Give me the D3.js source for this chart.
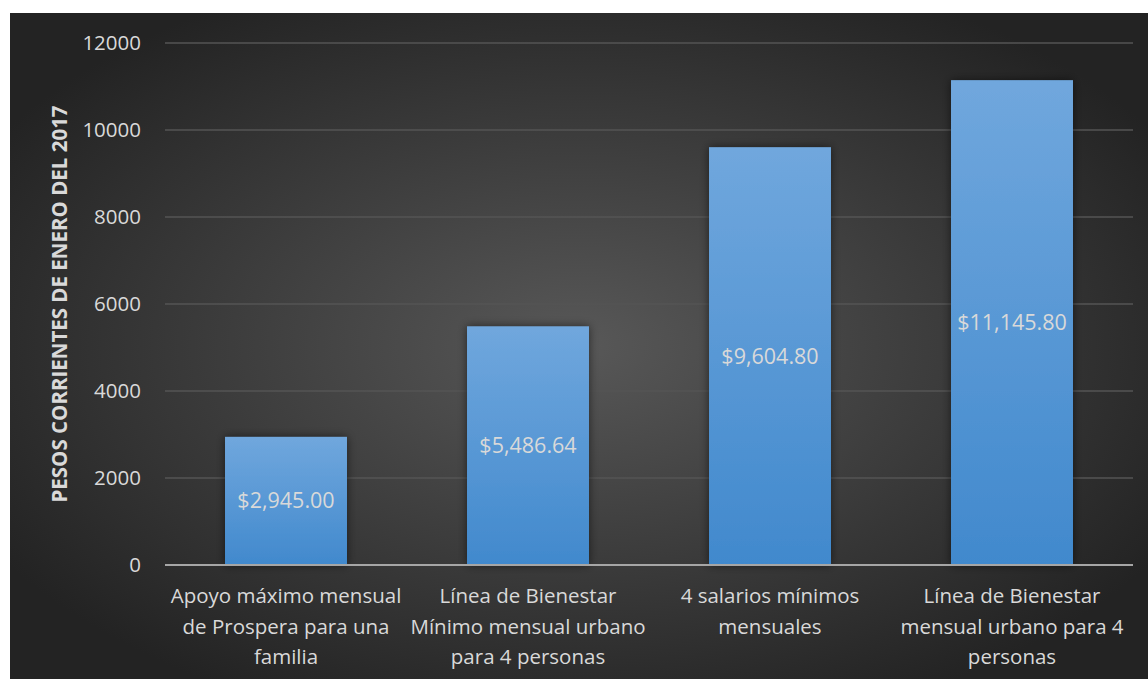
<!DOCTYPE html>
<html>
<head>
<meta charset="utf-8">
<script src="https://cdn.jsdelivr.net/npm/d3@7"></script>
<style>
  html, body { margin: 0; padding: 0; background: #fff; }
  svg { display: block; }
  text { font-family: "Open Sans", "Noto Sans", sans-serif; }
</style>
</head>
<body>
<svg id="vis"></svg>
<script>
const width = 1148;
const height = 679;

// chart data
const categories = [
  ["Apoyo máximo mensual", "de Prospera para una", "familia"],
  ["Línea de Bienestar", "Mínimo mensual urbano", "para 4 personas"],
  ["4 salarios mínimos", "mensuales"],
  ["Línea de Bienestar", "mensual urbano para 4", "personas"]
];
const values = [2945.00, 5486.64, 9604.80, 11145.80];
const valueLabels = ["$2,945.00", "$5,486.64", "$9,604.80", "$11,145.80"];
const yTicks = [0, 2000, 4000, 6000, 8000, 10000, 12000];
const yTitle = "PESOS CORRIENTES DE ENERO DEL 2017";

const margin = { left: 165, right: 15, top: 43, bottom: 114 };

const svg = d3.select("#vis").attr("width", width).attr("height", height);
const defs = svg.append("defs");

// background radial gradient
const bg = defs.append("radialGradient").attr("id", "bg")
  .attr("cx", "50%").attr("cy", "50%").attr("r", "60%");
bg.append("stop").attr("offset", "0%").attr("stop-color", "#585858");
bg.append("stop").attr("offset", "100%").attr("stop-color", "#232323");

const barGrad = defs.append("linearGradient").attr("id", "barGrad")
  .attr("x1", 0).attr("y1", 0).attr("x2", 0).attr("y2", 1);
barGrad.append("stop").attr("offset", "0%").attr("stop-color", "#70a7dd");
barGrad.append("stop").attr("offset", "100%").attr("stop-color", "#4189cd");

const shadow = defs.append("filter").attr("id", "shadow")
  .attr("x", "-20%").attr("y", "-20%").attr("width", "140%").attr("height", "140%");
shadow.append("feDropShadow").attr("dx", 0).attr("dy", 0)
  .attr("stdDeviation", 5).attr("flood-color", "#000").attr("flood-opacity", 0.55);

svg.append("rect")
  .attr("x", 10).attr("y", 13)
  .attr("width", width - 10).attr("height", height - 13)
  .attr("fill", "url(#bg)");

const x = d3.scaleBand()
  .domain(d3.range(categories.length))
  .range([margin.left, width - margin.right])
  .paddingInner(0.496).paddingOuter(0.248);

const y = d3.scaleLinear()
  .domain([0, 12000])
  .range([height - margin.bottom, margin.top]);

// gridlines
svg.append("g")
  .selectAll("line")
  .data(yTicks.filter(d => d > 0))
  .join("line")
  .attr("x1", margin.left).attr("x2", width - margin.right)
  .attr("y1", d => y(d)).attr("y2", d => y(d))
  .attr("stroke", "#555555").attr("stroke-width", 1.5);

// y axis labels
const yAxis = svg.append("g")
  .attr("transform", `translate(${margin.left},0)`)
  .call(d3.axisLeft(y).tickValues(yTicks).tickSize(0).tickPadding(24).tickFormat(d3.format("d")));
yAxis.select(".domain").remove();
yAxis.selectAll("text")
  .attr("fill", "#d9d9d9")
  .style("font-size", "20.5px");

// bars
svg.append("g")
  .selectAll("rect")
  .data(values)
  .join("rect")
  .attr("x", (d, i) => x(i))
  .attr("y", d => y(d))
  .attr("width", x.bandwidth())
  .attr("height", d => y(0) - y(d))
  .attr("fill", "url(#barGrad)")
  .attr("filter", "url(#shadow)");

// zero line
svg.append("line")
  .attr("x1", margin.left).attr("x2", width - margin.right)
  .attr("y1", y(0)).attr("y2", y(0))
  .attr("stroke", "#a6a6a6").attr("stroke-width", 2);

// data labels
svg.append("g")
  .selectAll("text")
  .data(values)
  .join("text")
  .attr("x", (d, i) => x(i) + x.bandwidth() / 2)
  .attr("y", d => (y(d) + y(0)) / 2)
  .attr("dy", "0.35em")
  .attr("text-anchor", "middle")
  .attr("fill", "#d9d9d9")
  .style("font-size", "21.5px")
  .text((d, i) => valueLabels[i]);

// category labels
const catG = svg.append("g")
  .selectAll("text")
  .data(categories)
  .join("text")
  .attr("x", (d, i) => x(i) + x.bandwidth() / 2)
  .attr("y", y(0) + 38)
  .attr("text-anchor", "middle")
  .attr("fill", "#d9d9d9")
  .style("font-size", "20.5px");
catG.each(function(lines, i) {
  d3.select(this).selectAll("tspan")
    .data(lines)
    .join("tspan")
    .attr("x", x(i) + x.bandwidth() / 2)
    .attr("dy", (l, j) => j === 0 ? 0 : 30.5)
    .text(l => l);
});

// y axis title
svg.append("text")
  .attr("transform", `translate(67,${(y(0) + y(12000)) / 2}) rotate(-90)`)
  .attr("text-anchor", "middle")
  .attr("fill", "#d9d9d9")
  .style("font-size", "20.5px")
  .style("font-weight", "bold")
  .text(yTitle);
</script>
</body>
</html>
